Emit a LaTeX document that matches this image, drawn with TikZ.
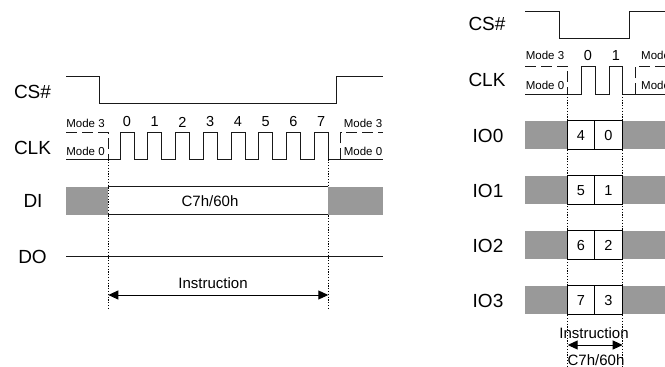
\documentclass[tikz,border=0pt]{standalone}
\usepackage{fontspec}
\setmainfont{Liberation Sans}
\usetikzlibrary{arrows.meta}
\begin{document}
\begin{tikzpicture}[x=1pt,y=-1pt,line join=miter,
  sig/.style={line width=1pt,black!90},
  dsh/.style={sig,dash pattern=on 11pt off 5pt},
  dotln/.style={line width=0.95pt,dash pattern=on 1.2pt off 1.6pt},
  busgray/.style={fill=black!40,draw=none},
  cell/.style={draw,line width=1pt,fill=white},
  lab/.style={font=\fontsize{19}{19}\selectfont,inner sep=0pt},
  modetxt/.style={font=\fontsize{11.5}{12}\selectfont,inner sep=0pt},
  num/.style={font=\fontsize{14.5}{15}\selectfont,inner sep=0pt},
  txt/.style={font=\fontsize{15}{15}\selectfont,inner sep=0pt},
  dim/.style={line width=1pt,{Triangle[length=10pt,width=9pt]}-{Triangle[length=10pt,width=9pt]}}
]
\useasboundingbox (0,0) rectangle (665,367);
\clip (0,0) rectangle (665,367);

% ================= LEFT DIAGRAM =================
\node[lab] (lcs)  at (32.5,91.5) {CS\#};
\node[lab] (lclk) at (32.5,148)  {CLK};
\node[lab] (ldi)  at (33,201)    {DI};
\node[lab] (ldo)  at (32.5,256.5){DO};

% CS#
\draw[sig] (66,76.7) -| (99.3,103.3) -| (336,76.7) -- (383,76.7);

% CLK
\draw[dsh] (66,132.7) -- (108.3,132.7) -- (108.3,159.3);
\draw[dsh] (340.7,159.3) -- (340.7,132.7) -- (383,132.7);
\draw[sig] (66,159.3) -- (120,159.3)
  \foreach \k in {0,...,7} { -- ++(0,-26.6) -- ++(14,0) -- ++(0,26.6) -- ++(13.75,0) }
  -- (383,159.3);
\foreach \k in {0,...,7} {
  \node[num] (ln\k) at ({127+27.75*\k},122) {\k};
}
\node[modetxt] (lm3a) at (85.5,123) {Mode 3};
\node[modetxt] (lm0a) at (85.5,151) {Mode 0};
\node[modetxt] (lm3b) at (363,123) {Mode 3};
\node[modetxt] (lm0b) at (363,151) {Mode 0};

% dotted markers
\coordinate (la1) at (108.3,159.3);
\coordinate (la2) at (108.3,308.5);
\coordinate (lb1) at (328.3,159.3);
\coordinate (lb2) at (328.3,308.5);
\draw[dotln] (la1) -- (la2);
\draw[dotln] (lb1) -- (lb2);

% DI
\fill[busgray] (66,186.7) rectangle (108.3,214.7);
\fill[busgray] (328.3,186.7) rectangle (383,214.7);
\draw[sig] (108.3,186.7) -- (328.3,186.7);
\draw[sig] (108.3,214.7) -- (328.3,214.7);
\node[txt] (lcmd) at (210,200.7) {C7h/60h};

% DO
\draw[sig] (66,256) -- (383,256);

% Instruction arrow
\coordinate (lia) at (108.3,295);
\coordinate (lib) at (328.3,295);
\draw[dim] (lia) -- (lib);
\node[txt] (linst) at (213,282.7) {Instruction};

% ================= RIGHT DIAGRAM =================
\node[lab] (rcs)  at (487,24) {CS\#};
\node[lab] (rclk) at (487,80) {CLK};
\node[lab] (rio0) at (488,135.5) {IO0};
\node[lab] (rio1) at (488,190.5) {IO1};
\node[lab] (rio2) at (488,245.5) {IO2};
\node[lab] (rio3) at (488,300.5) {IO3};

% CS#
\draw[sig] (525,11.7) -| (559.3,38.3) -| (629,11.7) -- (665,11.7);

% CLK
\draw[dsh] (525,66) -- (567.7,66) -- (567.7,94);
\draw[dsh] (635,94) -- (635,66) -- (665,66);
\draw[sig] (525,94) -- (581,94) -- (581,66) -- (595,66) -- (595,94) -- (609,94)
  -- (609,66) -- (622.7,66) -- (622.7,94) -- (665,94);
\node[num] (rn0) at (588,56) {0};
\node[num] (rn1) at (616,56) {1};
\node[modetxt] (rm3a) at (545,55.7) {Mode 3};
\node[modetxt] (rm0a) at (545,85) {Mode 0};
\node[modetxt,anchor=west] (rm3b) at (641,55.7) {Mode 3};
\node[modetxt,anchor=west] (rm0b) at (641,85) {Mode 0};

% dotted markers
\coordinate (ra1) at (567.7,94);
\coordinate (ra2) at (567.7,367);
\coordinate (rb1) at (622.7,94);
\coordinate (rb2) at (622.7,367);
\draw[dotln] (ra1) -- (ra2);
\draw[dotln] (rb1) -- (rb2);

% IO buses
\foreach \t/\a/\b [count=\i from 0] in {120.7/4/0,175.7/5/1,230.7/6/2,285.7/7/3} {
  \fill[busgray] (525,\t) rectangle (567.7,\t+28.3);
  \fill[busgray] (622.7,\t) rectangle (665,\t+28.3);
  \draw[cell] (567.7,\t) rectangle (594.3,\t+28.3);
  \draw[cell] (594.3,\t) rectangle (622.7,\t+28.3);
  \node[num] (rc\i a) at (581,\t+14.5) {\a};
  \node[num] (rc\i b) at (608.5,\t+14.5) {\b};
}

% Instruction arrow
\coordinate (ria) at (567.7,345);
\coordinate (rib) at (622.7,345);
\draw[dim] (ria) -- (rib);
\node[txt] (rinst) at (594,333) {Instruction};
\node[txt] (rcmd) at (596,360) {C7h/60h};
\end{tikzpicture}
\end{document}
